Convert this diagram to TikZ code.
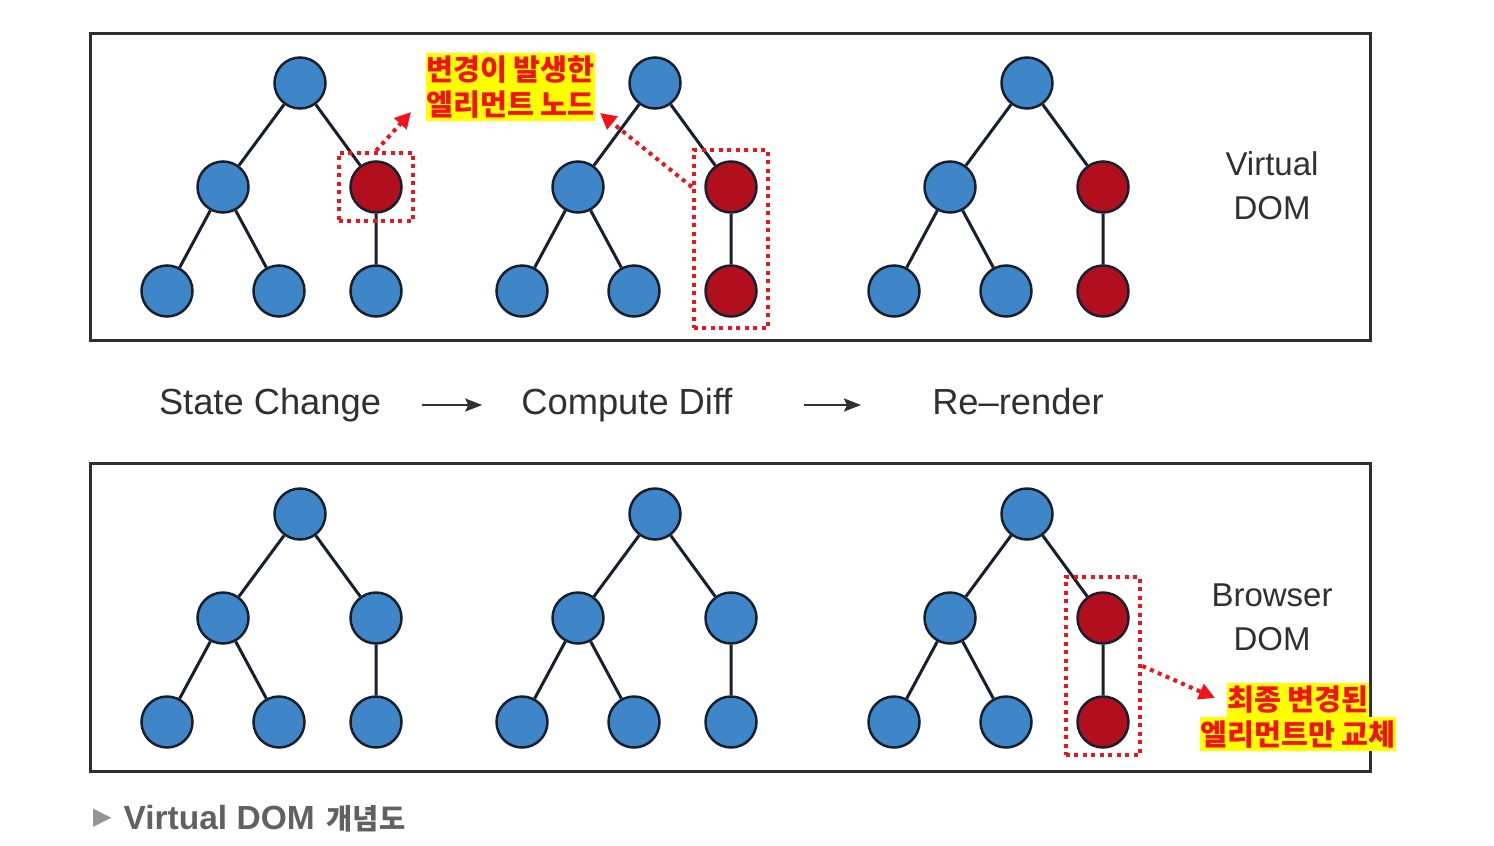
\documentclass[tikz,border=0pt]{standalone}
\usepackage{fontspec}
\setmainfont{Liberation Sans}
\newfontfamily\krfont{Noto Sans CJK KR}
\newfontfamily\symfont{DejaVu Sans}
\usetikzlibrary{arrows.meta,positioning,fit}
\definecolor{DomBlue}{HTML}{3E86C8}
\definecolor{DomRed}{HTML}{B10F1E}
\definecolor{DomEdge}{HTML}{17202C}
\definecolor{DomFrame}{HTML}{2E2E2E}
\definecolor{DomText}{HTML}{303030}
\definecolor{MarkRed}{HTML}{F2121A}
\definecolor{NoteYellow}{HTML}{FFFF00}

\tikzset{
  dnode/.style={circle, draw=DomEdge, line width=2.5pt, fill=DomBlue, minimum size=51pt, inner sep=0pt},
  link/.style={DomEdge, line width=3pt},
  frame/.style={draw=DomFrame, line width=3pt},
  markbox/.style={draw=MarkRed, line width=4pt, dash pattern=on 4pt off 4.5pt, inner xsep=10.5pt, inner ysep=10pt},
  markarrow/.style={MarkRed, line width=4pt, dash pattern=on 4pt off 4.5pt, -{Triangle[length=16pt,width=16pt]}},
  note/.style={fill=NoteYellow, text=MarkRed, font=\krfont\bfseries\fontsize{29.3}{32}\selectfont, inner xsep=0.5pt, inner ysep=0pt, minimum height=34pt},
  stagelbl/.style={text=DomText, font=\fontsize{36.3}{42}\selectfont, inner sep=0pt, text height=26pt, text depth=7.5pt},
  sidelbl/.style={text=DomText, font=\fontsize{33}{44}\selectfont, align=center, inner sep=0pt},
  flow/.style={DomText, line width=2.5pt, -{Stealth[length=17pt,width=13pt,inset=3pt]}}
}

\begin{document}
\begin{tikzpicture}[x=1pt, y=-1pt]
  \useasboundingbox (0,0) rectangle (1494,846);

  % frames
  \draw[frame] (90,33) rectangle (1370,340);
  \draw[frame] (90,463) rectangle (1370,771);

  % trees: name / root x / root y / right child / right leaf
  \foreach \tn/\tx/\ty/\rc/\lc in {va/300/83/DomRed/DomBlue, vb/655/83/DomRed/DomRed, vc/1027/83/DomRed/DomRed,
                                    ba/300/514/DomBlue/DomBlue, bb/655/514/DomBlue/DomBlue, bc/1027/514/DomRed/DomRed} {
    \node[dnode] (\tn-root) at (\tx,\ty) {};
    \node[dnode] (\tn-l) at (\tx-77,\ty+104) {};
    \node[dnode, fill=\rc] (\tn-r) at (\tx+76,\ty+104) {};
    \node[dnode] (\tn-ll) at (\tx-133,\ty+208) {};
    \node[dnode] (\tn-lr) at (\tx-21,\ty+208) {};
    \node[dnode, fill=\lc] (\tn-rr) at (\tx+76,\ty+208) {};
    \draw[link] (\tn-root) -- (\tn-l) (\tn-root) -- (\tn-r)
                (\tn-l) -- (\tn-ll) (\tn-l) -- (\tn-lr) (\tn-r) -- (\tn-rr);
  }

  % side labels
  \node[sidelbl] (vdom) at (1272,186) {Virtual\\DOM};
  \node[sidelbl] (bdom) at (1272,617) {Browser\\DOM};

  % pipeline
  \node[stagelbl] (st1) at (270,405) {State Change};
  \node[stagelbl] (st2) at (627,405) {Compute Diff};
  \node[stagelbl] (st3) at (1018,405) {Re--render};
  \draw[flow, shorten <=41pt, shorten >=39pt] (st1) -- (st2);
  \draw[flow, shorten <=71pt, shorten >=71pt] (st2) -- (st3);

  % changed elements
  \node[markbox, inner ysep=7.5pt, fit=(va-r)] (chg1) {};
  \node[markbox, fit=(vb-r)(vb-rr)] (chg2) {};
  \node[markbox, yshift=4pt, fit=(bc-r)(bc-rr)] (chg3) {};

  \node[note] (lblchg1) at (510.5,70) {변경이 발생한};
  \node[note, below=0pt of lblchg1] (lblchg2) {엘리먼트 노드};
  \node[note] (lblrep1) at (1298,700) {최종 변경된};
  \node[note, below=0pt of lblrep1] (lblrep2) {엘리먼트만 교체};

  \coordinate (tip1) at (411,112);
  \coordinate (tip2) at (600,113);
  \coordinate (tip3) at (1215,698);
  \draw[markarrow] (chg1.north) -- (tip1);
  \draw[markarrow] (chg2.west |- vb-r.center) -- (tip2);
  \draw[markarrow] (chg3.east) -- (tip3);

  % caption
  \node[anchor=base west, inner sep=0pt, font=\bfseries\fontsize{33.5}{38}\selectfont, text=black!62] (cap) at (93,829)
    {\raisebox{5pt}{\symfont\fontsize{24}{26}\selectfont\color{black!42}▶}\hspace{12pt}Virtual DOM\hspace{12pt}{\krfont\fontsize{28.5}{32}\selectfont 개념도}};
\end{tikzpicture}
\end{document}
